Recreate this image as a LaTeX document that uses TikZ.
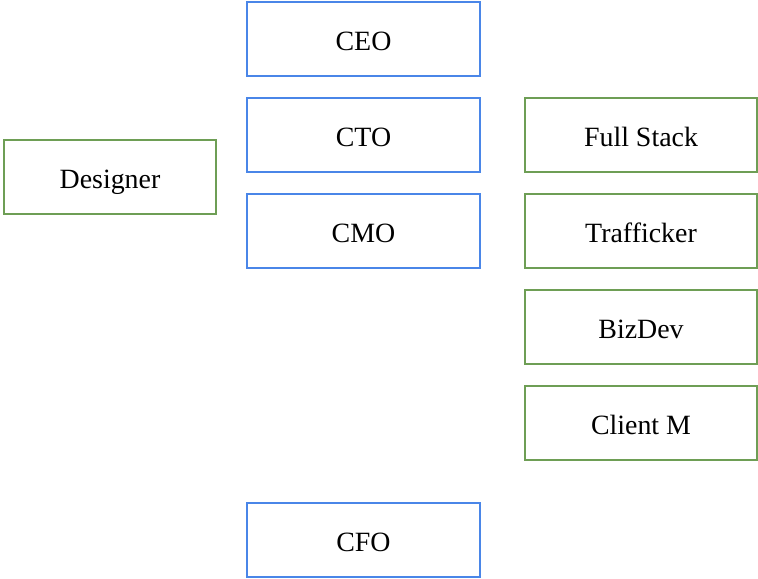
\documentclass[tikz,border=0pt]{standalone}
\usepackage{fontspec}
\setmainfont{Liberation Serif}
\definecolor{execblue}{HTML}{4A86E8}
\definecolor{staffgreen}{HTML}{6E9E55}
\tikzset{
  rolebox/.style={draw, line width=1.5bp, fill=white, minimum height=74bp,
    inner sep=0pt, text height=22.5bp, text depth=0bp,
    font=\fontsize{28}{32}\selectfont},
  exec/.style={rolebox, draw=execblue, minimum width=233bp},
  staff/.style={rolebox, draw=staffgreen, minimum width=232bp},
  side/.style={rolebox, draw=staffgreen, minimum width=212bp},
}
\begin{document}
\begin{tikzpicture}[x=1bp, y=-1bp]
  \useasboundingbox[fill=white] (0,0) rectangle (758,579);
  % executive column
  \node[exec] (ceo) at (363.5,39) {CEO};
  \node[exec] (cto) at (363.5,135) {CTO};
  \node[exec] (cmo) at (363.5,231) {CMO};
  \node[exec] (cfo) at (363.5,540) {CFO};
  % left side
  \node[side] (designer) at (110,177) {Designer};
  % team column
  \node[staff] (fullstack) at (641,135) {Full Stack};
  \node[staff] (trafficker) at (641,231) {Trafficker};
  \node[staff] (bizdev) at (641,327) {BizDev};
  \node[staff] (clientm) at (641,423) {Client M};
\end{tikzpicture}
\end{document}
